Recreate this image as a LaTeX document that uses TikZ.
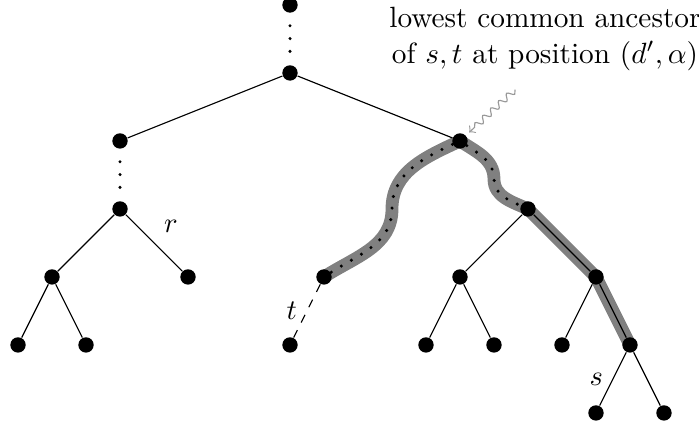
\documentclass[tikz,border=0pt]{standalone}
\usepackage{amsmath}
\usepackage{tikz}
\usetikzlibrary{decorations.pathmorphing,backgrounds}

\begin{document}
\begin{tikzpicture}[x=0.42cm, y=0.84cm,
	dot/.style={circle,fill,inner sep=0pt,minimum size=0.19cm},
	band/.style={line width=4.5pt,black!50},
	dotline/.style={line width=1.2pt,line cap=round,dash pattern=on 0pt off 4.5pt},
	pathdots/.style={line width=1.2pt,line cap=round,dash pattern=on 0pt off 4.1pt}]
		\useasboundingbox (-0.53,0.073) rectangle (20.03,-6.18);
		\node[dot] (top)at(8,0) {};
		\node[dot] (root)at(8,-1) {};
		\node[dot] (a)at(3,-2) {};
		\node[dot] (r)at(3,-3) {};
		\node[dot] (ra)at(1,-4) {};
		\node[dot] (rb)at(5,-4) {};
		\node[dot] (raa)at(0,-5) {};
		\node[dot] (rab)at(2,-5) {};
		\node[dot] (lca)at(13,-2) {};
		\node[dot] (tp)at(9,-4) {};
		\node[dot] (t)at(8,-5) {};
		\node[dot] (b)at(15,-3) {};
		\node[dot] (ba)at(13,-4) {};
		\node[dot] (bb)at(17,-4) {};
		\node[dot] (baa)at(12,-5) {};
		\node[dot] (bab)at(14,-5) {};
		\node[dot] (bba)at(16,-5) {};
		\node[dot] (s)at(18,-5) {};
		\node[dot] (sa)at(17,-6) {};
		\node[dot] (sb)at(19,-6) {};
		\coordinate (wl)at(11,-3);
		\coordinate (wr)at(14,-2.56);
		\coordinate (arr)at(14.62,-1.245);
		
		% path between s and t
		\begin{scope}[on background layer]
		\draw[band] (lca.center) to[out=205,in=90] (wl) to[out=-90,in=33] (tp.center);
		\draw[band] (lca.center) to[out=-34,in=90] (wr) to[out=-90,in=156] (b.center) -- (bb.center) -- (s.center);
		\end{scope}
		
		\draw[dotline,shorten <=4.4pt,shorten >=4.4pt] (top) -- (root);
		\draw (root) -- (a);
		\draw (root) -- (lca);
		\draw[dotline,shorten <=4.4pt,shorten >=4.4pt] (a) -- (r);
		\draw (r) -- (ra);
		\draw (r) -- (rb) node[midway,above right] {$r$};
		\draw (ra) -- (raa);
		\draw (ra) -- (rab);
		\draw[dashed] (tp) -- (t) node[midway,left] {$t$};
		\draw (b) -- (ba);
		\draw (b) -- (bb);
		\draw (ba) -- (baa);
		\draw (ba) -- (bab);
		\draw (bb) -- (bba);
		\draw (bb) -- (s);
		\draw (s) -- (sa) node[midway,left] {$s$};
		\draw (s) -- (sb);
		\draw[pathdots] (lca) to[out=205,in=90] (wl) to[out=-90,in=33] (tp);
		\draw[pathdots] (lca) to[out=-34,in=90] (wr) to[out=-90,in=156] (b);
		
		\node[align=center,scale=1.03] (lbl)at(15.5,-0.5) {lowest common ancestor\\of $s,t$ at position $(d',\alpha)$};
		\draw[->,black!40,decorate,decoration={snake,amplitude=1.1pt,segment length=3.8pt,post length=2.5pt},shorten >=1.5pt] (arr) -- (lca);
		
		\end{tikzpicture}
\end{document}
